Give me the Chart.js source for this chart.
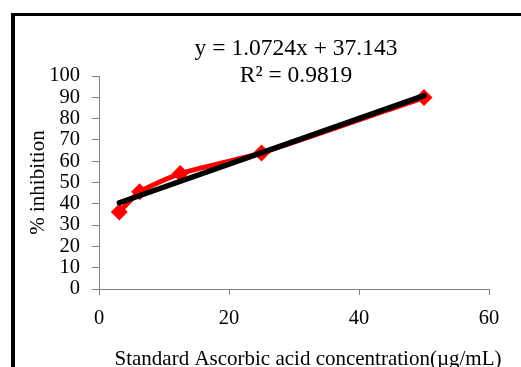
<!DOCTYPE html>
<html>
<head>
<meta charset="utf-8">
<script src="https://cdn.jsdelivr.net/npm/chart.js@4/dist/chart.umd.min.js"></script>
<style>
  html, body { margin: 0; padding: 0; background: #fff; }
  #wrap { width: 521px; height: 367px; position: relative; overflow: hidden; }
</style>
</head>
<body>
<div id="wrap"><canvas id="c" width="521" height="367"></canvas></div>
<script>
// ---- data ----
const concentrations = [3.125, 6.25, 12.5, 25, 50];      // µg/mL
const inhibition     = [36.2, 45.6, 54.2, 63.9, 89.9];    // %
const trendSlope = 1.0724;
const trendIntercept = 37.143;
const rSquared = 0.9819;
const xTickRange = [0, 60, 20];   // min, max, step
const yTickRange = [0, 100, 10];

const equationLines = [
  'y = ' + trendSlope.toFixed(4) + 'x + ' + trendIntercept.toFixed(3),
  'R\u00B2 = ' + rSquared.toFixed(4)
];
const xTitle = 'Standard Ascorbic acid concentration(\u00B5g/mL)';
const yTitle = '% inhibition';

const measured = concentrations.map((x, i) => ({ x: x, y: inhibition[i] }));
const trendEnds = [concentrations[0], concentrations[concentrations.length - 1]];
const trend = trendEnds.map(x => ({ x: x, y: trendSlope * x + trendIntercept }));

const SERIF = '"Liberation Serif", "Times New Roman", serif';

const framePlugin = {
  id: 'frame',
  beforeDraw(chart) {
    const ctx = chart.ctx;
    ctx.save();
    ctx.fillStyle = '#fff';
    ctx.fillRect(0, 0, chart.width, chart.height);
    ctx.fillStyle = '#000';
    ctx.fillRect(11, 13, 4, chart.height - 13);
    ctx.fillRect(11, 13, chart.width - 11, 3);
    ctx.restore();
  },
  afterDraw(chart) {
    const ctx = chart.ctx;
    const a = chart.chartArea;
    ctx.save();
    ctx.fillStyle = '#000';
    ctx.textAlign = 'center';
    ctx.textBaseline = 'alphabetic';
    ctx.font = '23.5px ' + SERIF;
    const cx = (a.left + a.right) / 2 + 2;
    ctx.fillText(equationLines[0], cx, 55);
    ctx.fillText(equationLines[1], cx, 82);
    ctx.font = '21px ' + SERIF;
    ctx.fillText(xTitle, (a.left + a.right) / 2 + 14, 365);
    ctx.restore();
  }
};

new Chart(document.getElementById('c'), {
  type: 'scatter',
  data: {
    datasets: [
      {
        label: 'Linear trend',
        data: trend,
        showLine: true,
        borderColor: '#000',
        backgroundColor: '#000',
        borderWidth: 5.5,
        pointRadius: 0,
        borderCapStyle: 'round',
        tension: 0
      },
      {
        label: 'Ascorbic acid',
        data: measured,
        showLine: true,
        borderColor: '#ff0000',
        backgroundColor: '#ff0000',
        borderWidth: 5,
        tension: 0.2,
        pointStyle: 'rectRot',
        pointRadius: 8.5,
        pointBorderWidth: 0,
        pointBackgroundColor: '#ff0000'
      }
    ]
  },
  options: {
    responsive: false,
    animation: false,
    devicePixelRatio: 1,
    layout: { padding: { left: 0, top: 76, right: 32, bottom: 0 } },
    plugins: { legend: { display: false }, tooltip: { enabled: false }, title: { display: false } },
    scales: {
      x: {
        type: 'linear',
        min: xTickRange[0], max: xTickRange[1],
        ticks: { stepSize: xTickRange[2], autoSkip: false, maxRotation: 0, color: '#000', padding: 11, font: { family: SERIF, size: 20.5 } },
        grid: { display: true, drawOnChartArea: false, drawTicks: true, tickLength: 6, color: '#808080', lineWidth: 1 },
        border: { display: true, color: '#808080', width: 1 },
        afterFit(s) { s.height = 78; }
      },
      y: {
        type: 'linear',
        min: yTickRange[0], max: yTickRange[1],
        ticks: { stepSize: yTickRange[2], autoSkip: false, color: '#000', padding: 12, font: { family: SERIF, size: 20.5 } },
        grid: { display: true, drawOnChartArea: false, drawTicks: true, tickLength: 7, color: '#808080', lineWidth: 1 },
        border: { display: true, color: '#808080', width: 1 },
        title: { display: true, text: yTitle, color: '#000', padding: { top: 26, bottom: 0 }, font: { family: SERIF, size: 21 } },
        afterFit(s) { s.width = 99; }
      }
    }
  },
  plugins: [framePlugin]
});
</script>
</body>
</html>
